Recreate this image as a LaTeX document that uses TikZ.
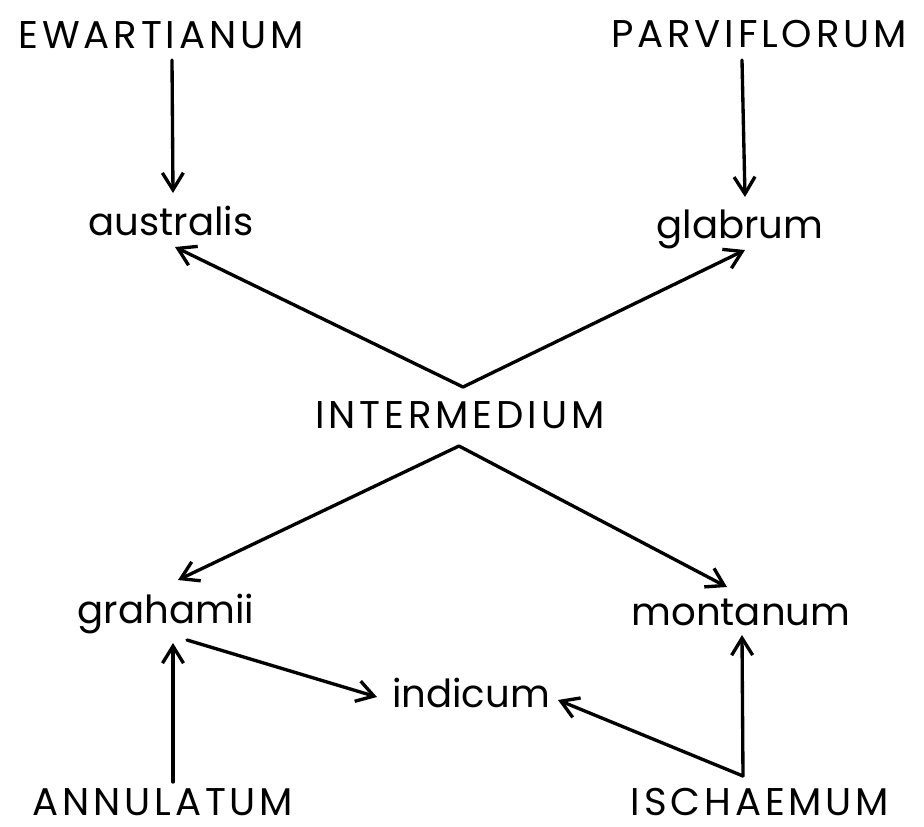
\documentclass[tikz,border=0pt]{standalone}
\usepackage{fontspec}
\setmainfont{Poppins}
\newfontfamily\capsfont[LetterSpace=10]{Poppins} % wide lettering of the capitals
\usetikzlibrary{arrows.meta, calc}

\begin{document}
\begin{tikzpicture}[
    x=0.02cm, y=-0.02cm, % one unit = one pixel of the scan, y downwards
    >={Straight Barb[length=0.34cm, width=0.42cm]}, % open arrow tips
    link/.style={->, line width=1.9pt, line cap=round}, % style for the arrows
    taxon/.style={anchor=base, inner sep=0pt, text depth=0pt, font=\fontsize{22}{26}\selectfont}, % style for the species
    group/.style={taxon, font=\capsfont\fontsize{22}{26}\selectfont} % style for the capitals
]

    \useasboundingbox (0,0) rectangle (924,826); % page size

    % Names, placed by their baseline
    \node[group] (ewart)  at (161,48)  {EWARTIANUM};
    \node[group] (parvi)  at (759,47)  {PARVIFLORUM};
    \node[taxon] (austr)  at (171,235) {australis};
    \node[taxon] (glab)   at (740,238) {glabrum};
    \node[group] (inter)  at (460,428) {INTERMEDIUM};
    \node[taxon] (graham) at (166,623) {grahamii};
    \node[taxon] (montan) at (741,625) {montanum};
    \node[taxon] (indic)  at (471,707) {indicum};
    \node[group] (annul)  at (163,815) {ANNULATUM};
    \node[group] (isch)   at (760,815) {ISCHAEMUM};

    % Points where two arrows meet
    \coordinate (intertop) at ($(inter.base)+(3,-41)$); % apex above INTERMEDIUM
    \coordinate (interbot) at ($(inter.base)+(-1,18)$); % apex below INTERMEDIUM
    \coordinate (ischtop)  at ($(isch.base)+(-17,-39)$); % apex above ISCHAEMUM

    % Top row down
    \draw[link] ($(ewart.base)+(11,12)$) -- ($(austr.base)+(2,-42)$);
    \draw[link] ($(parvi.base)+(-17,13)$) -- ($(glab.base)+(5,-41)$);

    % From INTERMEDIUM upwards
    \draw[link] (intertop) -- ($(austr.base)+(4,12)$);
    \draw[link] (intertop) -- ($(glab.base)+(5,12)$);

    % From INTERMEDIUM downwards
    \draw[link] (interbot) -- ($(graham.base)+(12,-43)$);
    \draw[link] (interbot) -- ($(montan.base)+(-14,-38)$);

    % Bottom row
    \draw[link] ($(graham.base)+(21,17)$) -- ($(indic.base)+(-94,-10)$);
    \draw[link] ($(annul.base)+(10,-33)$) -- ($(graham.base)+(7,20)$);
    \draw[link] (ischtop) -- ($(montan.base)+(1,10)$);
    \draw[link] (ischtop) -- ($(indic.base)+(87,-7)$);

\end{tikzpicture}
\end{document}
